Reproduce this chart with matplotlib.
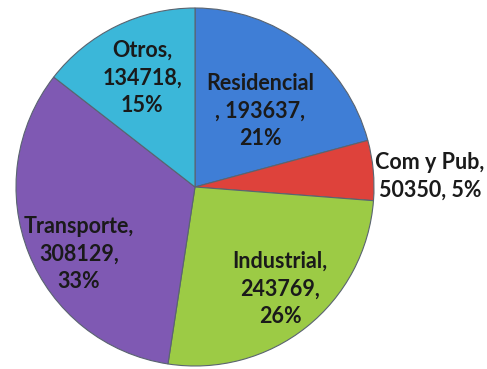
import matplotlib
matplotlib.use("Agg")
import matplotlib.pyplot as plt

# Energy consumption by sector
sectors = ["Residencial", "Com y Pub", "Industrial", "Transporte", "Otros"]
values = [193637, 50350, 243769, 308129, 134718]
percents = [21, 5, 26, 33, 15]
colors = ["#3f7ed6", "#de423b", "#9ccb45", "#7f59b3", "#3bb7d9"]

W, H = 487, 369
fig = plt.figure(figsize=(W / 100, H / 100), dpi=100)
ax = fig.add_axes([0, 0, 1, 1])

cx, cy, r = 195, H - 187, 179
ax.pie(values, colors=colors, startangle=90, counterclock=False,
       center=(cx, cy), radius=r, frame=True,
       wedgeprops=dict(edgecolor="#5a6470", linewidth=0.8))
ax.set_xlim(0, W)
ax.set_ylim(0, H)
ax.set_aspect("equal")
ax.axis("off")

# label anchors (pixel positions, measured from the top)
label_pos = [(260, 111), (430, 176), (280, 289), (79, 254), (142, 78)]
for name, v, p, (x, y) in zip(sectors, values, percents, label_pos):
    if name == "Residencial":
        s = "{}\n, {},\n{}%".format(name, v, p)
    elif name == "Com y Pub":
        s = "{},\n{}, {}%".format(name, v, p)
    else:
        s = "{},\n{},\n{}%".format(name, v, p)
    ax.text(x, H - y, s, ha="center", va="center", fontsize=15.5,
            fontweight="bold", family="Lato", color="#1a1a1a",
            linespacing=1.38)

fig.savefig("out.png", dpi=100, facecolor="white")
